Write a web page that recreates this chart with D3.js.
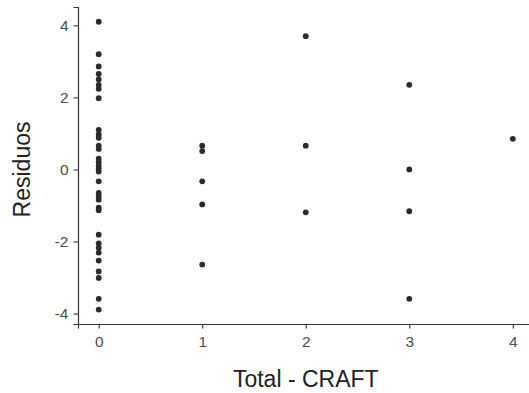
<!DOCTYPE html>
<html>
<head>
<meta charset="utf-8">
<script src="https://cdn.jsdelivr.net/npm/d3@7"></script>
<style>
body { margin: 0; background: #fff; }
text { font-family: "Liberation Sans", Arial, sans-serif; }
</style>
</head>
<body>
<div id="chart"></div>
<script>
// residuos por nivel de CRAFT
var craft0 = [4.1, 3.2, 2.86, 2.65, 2.5, 2.35, 2.24, 1.98,
	1.1, 0.97, 0.88, 0.66, 0.57, 0.3, 0.2, 0.1, 0.02, -0.06, -0.33,
	-0.65, -0.75, -0.84, -1.06, -1.13,
	-1.81, -2.05, -2.17, -2.31, -2.53, -2.83, -3.01, -3.59, -3.89];
var craft1 = [0.66, 0.51, -0.33, -0.97, -2.64];
var craft2 = [3.7, 0.66, -1.19];
var craft3 = [2.35, 0.0, -1.16, -3.59];
var craft4 = [0.85];
var xTicks = [0, 1, 2, 3, 4];
var yTicks = [-4, -2, 0, 2, 4];

var puntos = [];
[craft0, craft1, craft2, craft3, craft4].forEach(function(arr, i) {
	arr.forEach(function(v) { puntos.push({x: i, y: v}); });
});

var width = 529, height = 393;
var margin = {left: 78, right: 0, top: 7, bottom: 69};

var svg = d3.select("#chart").append("svg")
	.attr("width", width)
	.attr("height", height);

var x = d3.scaleLinear().domain([-0.2, 4.2]).range([margin.left, 533.5]);
var y = d3.scaleLinear().domain([-4.29, 4.51]).range([height - margin.bottom, margin.top]);

var xAxis = svg.append("g")
	.attr("transform", "translate(0," + (height - margin.bottom) + ")")
	.call(d3.axisBottom(x).tickValues(xTicks).tickSize(4.5).tickPadding(7).tickFormat(d3.format("d")));
var yAxis = svg.append("g")
	.attr("transform", "translate(" + margin.left + ",0)")
	.call(d3.axisLeft(y).tickValues(yTicks).tickSize(4.5).tickPadding(5).tickFormat(d3.format("d")));

[xAxis, yAxis].forEach(function(ax) {
	ax.select(".domain").attr("stroke", "#333").attr("stroke-width", 1.2);
	ax.selectAll(".tick line").attr("stroke", "#333").attr("stroke-width", 1.1);
	ax.selectAll(".tick text").attr("fill", "#4d4d4d").style("font-size", "15.5px");
});
yAxis.selectAll(".tick text").text(function(d) { return d < 0 ? "-" + Math.abs(d) : d; });

svg.append("g").selectAll("circle")
	.data(puntos)
	.enter().append("circle")
	.attr("cx", function(d) { return x(d.x); })
	.attr("cy", function(d) { return y(d.y); })
	.attr("r", 2.9)
	.attr("fill", "#2b2b2b");

svg.append("text")
	.attr("x", x(2))
	.attr("y", 387)
	.attr("text-anchor", "middle")
	.style("font-size", "23px")
	.attr("fill", "#222")
	.text("Total - CRAFT");

svg.append("text")
	.attr("transform", "translate(30," + y(0) + ") rotate(-90)")
	.attr("text-anchor", "middle")
	.style("font-size", "23px")
	.attr("fill", "#222")
	.text("Residuos");
</script>
</body>
</html>
